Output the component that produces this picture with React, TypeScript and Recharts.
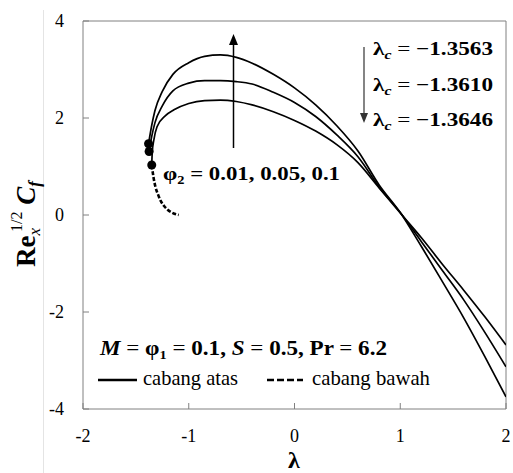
import React from "react";
import {
  ComposedChart,
  Line,
  Scatter,
  XAxis,
  YAxis,
  ReferenceLine,
} from "recharts";

document.body.style.margin = "0";

const xTicks = [-2, -1, 0, 1, 2];
const yTicks = [-4, -2, 0, 2, 4];

// cabang atas, phi2 = 0.1 (lambda_c = -1.3646)
const lamA = [-1.38, -1.35, -1.32, -1.25, -1.15, -1.0, -0.85, -0.7, -0.55, -0.4, -0.2, 0, 0.2, 0.4, 0.6, 0.8, 1.0, 1.2, 1.4, 1.6, 1.8, 2.0];
const cfA = [1.47, 1.85, 2.15, 2.55, 2.9, 3.14, 3.27, 3.3, 3.25, 3.13, 2.9, 2.62, 2.27, 1.84, 1.32, 0.62, 0.05, -0.65, -1.38, -2.12, -2.92, -3.75];

// cabang atas, phi2 = 0.05 (lambda_c = -1.3610)
const lamB = [-1.375, -1.35, -1.32, -1.25, -1.15, -1.0, -0.85, -0.7, -0.55, -0.4, -0.2, 0, 0.2, 0.4, 0.6, 0.8, 1.0, 1.2, 1.4, 1.6, 1.8, 2.0];
const cfB = [1.31, 1.62, 1.9, 2.25, 2.56, 2.72, 2.77, 2.77, 2.75, 2.7, 2.53, 2.32, 2.03, 1.65, 1.2, 0.58, 0.05, -0.55, -1.15, -1.75, -2.42, -3.13];

// cabang atas, phi2 = 0.01 (lambda_c = -1.3563)
const lamC = [-1.35, -1.345, -1.33, -1.3, -1.22, -1.14, -1.0, -0.85, -0.7, -0.55, -0.4, -0.2, 0, 0.2, 0.4, 0.6, 0.8, 1.0, 1.2, 1.4, 1.6, 1.8, 2.0];
const cfC = [1.03, 1.3, 1.55, 1.82, 2.05, 2.17, 2.3, 2.36, 2.37, 2.34, 2.27, 2.13, 1.95, 1.73, 1.45, 1.08, 0.56, 0.04, -0.47, -1.02, -1.55, -2.1, -2.68];

// cabang bawah
const lamLow = [-1.35, -1.335, -1.315, -1.29, -1.265, -1.235, -1.2, -1.15, -1.095];
const cfLow = [1.03, 0.8, 0.58, 0.42, 0.29, 0.19, 0.11, 0.04, 0.0];

// titik kritis
const lamDot = [-1.38, -1.375, -1.35];
const cfDot = [1.47, 1.31, 1.03];

const lamCrit = ["−1.3563", "−1.3610", "−1.3646"];

const toPoints = (xs: number[], ys: number[]) => xs.map((x, i) => ({ x, y: ys[i] }));

const serif = "Liberation Serif, DejaVu Serif, Times New Roman, Times, serif";

export default function App() {
  return (
    <div style={{ position: "relative", width: 513, height: 473, background: "#fff", fontFamily: serif }}>
      <div style={{ position: "absolute", left: 43, top: 10, width: 1, height: 463, background: "#e4e4e4" }} />
      <ComposedChart
        width={513}
        height={473}
        margin={{ top: 21, right: 7, left: 23, bottom: 24 }}
        style={{ fontFamily: serif }}
      >
        <XAxis
          type="number"
          dataKey="x"
          domain={[-2, 2]}
          ticks={xTicks}
          allowDataOverflow
          height={40}
          stroke="#808080"
          tickSize={-6}
          tickMargin={26}
          tick={{ fill: "#000", fontSize: 18, style: { fontFamily: serif } }}
        />
        <YAxis
          type="number"
          domain={[-4, 4]}
          ticks={yTicks}
          allowDataOverflow
          width={60}
          stroke="#808080"
          tickSize={-6}
          tickMargin={25}
          tick={{ fill: "#000", fontSize: 18, style: { fontFamily: serif } }}
        />
        <ReferenceLine y={4} stroke="#808080" />
        <ReferenceLine x={2} stroke="#808080" />

        <Line data={toPoints(lamA, cfA)} dataKey="y" type="monotone" stroke="#000" strokeWidth={1.7} dot={false} isAnimationActive={false} />
        <Line data={toPoints(lamB, cfB)} dataKey="y" type="monotone" stroke="#000" strokeWidth={1.7} dot={false} isAnimationActive={false} />
        <Line data={toPoints(lamC, cfC)} dataKey="y" type="monotone" stroke="#000" strokeWidth={1.7} dot={false} isAnimationActive={false} />
        <Line data={toPoints(lamLow, cfLow)} dataKey="y" type="monotone" stroke="#000" strokeWidth={2.6} strokeDasharray="4 2" dot={false} isAnimationActive={false} />
        <Scatter
          data={toPoints(lamDot, cfDot)}
          dataKey="y"
          isAnimationActive={false}
          shape={(p: any) => <circle cx={p.cx} cy={p.cy} r={4.5} fill="#000" />}
        />
      </ComposedChart>

      <svg
        width={513}
        height={473}
        style={{ position: "absolute", left: 0, top: 0, pointerEvents: "none", fontFamily: serif }}
      >
        {/* sumbu y */}
        <text transform="translate(35,224) rotate(-90)" textAnchor="middle" fontSize={27} fontWeight="bold">
          Re
          <tspan fontSize={17} fontStyle="italic" fontWeight="normal" dy={5}>x</tspan>
          <tspan fontSize={16} fontWeight="normal" dx={-4} dy={-18}>1/2</tspan>
          <tspan fontStyle="italic" dy={13}> C</tspan>
          <tspan fontSize={17} fontStyle="italic" dy={5}>f</tspan>
        </text>
        {/* sumbu x */}
        <text x={294} y={468} textAnchor="middle" fontSize={24} fontWeight="bold">λ</text>

        {/* panah phi2 */}
        <line x1={233.5} y1={148} x2={233.5} y2={42} stroke="#000" strokeWidth={1.5} />
        <polygon points="229,45 238,45 233.5,34" fill="#000" />
        <text x={163} y={180} fontSize={19} fontWeight="bold" textLength={177} lengthAdjust="spacingAndGlyphs">
          φ<tspan fontSize={12} dy={4}>2</tspan>
          <tspan dy={-4}> = 0.01, 0.05, 0.1</tspan>
        </text>

        {/* panah lambda_c */}
        <line x1={364} y1={47} x2={364} y2={115} stroke="#333" strokeWidth={1.2} />
        <polygon points="360,113 368,113 364,123" fill="#333" />
        {lamCrit.map((v, i) => (
          <text key={v} x={373} y={55 + i * 35.5} fontSize={19} fontWeight="bold" textLength={120} lengthAdjust="spacingAndGlyphs">
            λ<tspan fontSize={13} fontStyle="italic" dy={4}>c</tspan>
            <tspan dy={-4} fontWeight="normal"> = </tspan>
            <tspan>{v}</tspan>
          </text>
        ))}

        {/* parameter */}
        <text x={100} y={355} fontSize={21} fontWeight="bold" textLength={287} lengthAdjust="spacingAndGlyphs">
          <tspan fontStyle="italic">M</tspan>
          <tspan fontWeight="normal"> = </tspan>φ<tspan fontSize={13} dy={4}>1</tspan>
          <tspan dy={-4} fontWeight="normal"> = </tspan>
          <tspan>0.1, </tspan>
          <tspan fontStyle="italic">S</tspan>
          <tspan fontWeight="normal"> = </tspan>
          <tspan>0.5, Pr </tspan>
          <tspan fontWeight="normal">= </tspan>
          <tspan>6.2</tspan>
        </text>

        {/* legenda */}
        <line x1={98} y1={380} x2={137} y2={380} stroke="#000" strokeWidth={2.5} />
        <text x={143} y={385} fontSize={21} textLength={95} lengthAdjust="spacingAndGlyphs">cabang atas</text>
        <line x1={267} y1={380} x2={303} y2={380} stroke="#000" strokeWidth={2.5} strokeDasharray="7 3" />
        <text x={312} y={385} fontSize={21} textLength={118} lengthAdjust="spacingAndGlyphs">cabang bawah</text>
      </svg>
    </div>
  );
}
